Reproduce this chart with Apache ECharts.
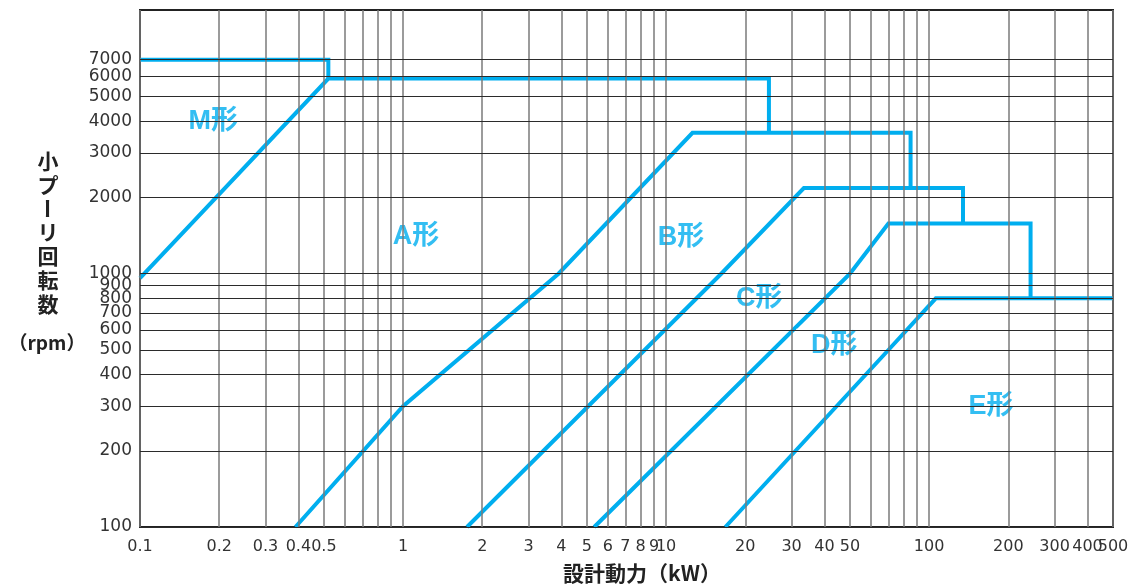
<!DOCTYPE html>
<html>
<head>
<meta charset="utf-8">
<script src="https://cdn.jsdelivr.net/npm/echarts@6/dist/echarts.min.js"></script>
<style>
  html, body { margin: 0; padding: 0; background: #fff; }
  #chart { width: 1139px; height: 587px; }
</style>
</head>
<body>
<div id="chart"></div>
<script>
// V-belt type selection chart: design power (kW) against small-pulley speed (rpm), log–log.

// Grid lines and their tick labels
const kwGrid = [0.1, 0.2, 0.3, 0.4, 0.5, 0.6, 0.7, 0.8, 0.9, 1, 2, 3, 4, 5, 6, 7, 8, 9, 10,
                20, 30, 40, 50, 60, 70, 80, 90, 100, 200, 300, 400, 500];
const kwLabels = ['0.1', '0.2', '0.3', '0.4', '0.5', '1', '2', '3', '4', '5', '6', '7', '8', '9', '10',
                  '20', '30', '40', '50', '100', '200', '300', '400', '500'];
const rpmGrid = [100, 200, 300, 400, 500, 600, 700, 800, 900, 1000, 2000, 3000, 4000, 5000, 6000, 7000];
const rpmLabels = ['100', '200', '300', '400', '500', '600', '700', '800', '900', '1000',
                   '2000', '3000', '4000', '5000', '6000', '7000'];

// Boundary lines between belt-type regions: [kW, rpm]
const limitM = [[0.1, 7000], [0.52, 7000], [0.52, 5900]];
const boundMA = [[0.1, 960], [0.52, 5900], [24.6, 5900], [24.6, 3600]];
const boundAB = [[0.39, 100], [1, 300], [3.9, 1000], [12.6, 3600], [85, 3600], [85, 2180]];
const boundBC = [[1.75, 100], [16.2, 1000], [33.4, 2180], [134.5, 2180], [134.5, 1580]];
const boundCD = [[5.33, 100], [50, 1000], [70, 1580], [243, 1580], [243, 800]];
const boundDE = [[16.8, 100], [70, 500], [106, 800], [500, 800]];

// Region names and where each one sits: kW, rpm
const typeNames = ['M形', 'A形', 'B形', 'C形', 'D形', 'E形'];
const typeKw = [0.19, 1.12, 11.4, 22.6, 43.6, 172];
const typeRpm = [4000, 1400, 1390, 800, 520, 300];

const BLUE = '#00AEEF';
const TICK_FAMILY = '"DejaVu Sans", sans-serif';

const gridLines = [];
kwGrid.forEach(v => {
  const txt = String(v);
  gridLines.push({
    xAxis: v,
    lineStyle: { color: '#7a7a7a', width: 1.5, type: 'solid' },
    label: { show: kwLabels.includes(txt), formatter: txt, position: 'start', distance: 12,
             color: '#333', fontFamily: TICK_FAMILY, fontSize: 16 }
  });
});
rpmGrid.forEach(v => {
  const txt = String(v);
  gridLines.push({
    yAxis: v,
    lineStyle: { color: '#2b2b2b', width: 1, type: 'solid' },
    label: { show: rpmLabels.includes(txt), formatter: txt, position: 'start', distance: 8,
             color: '#333', fontFamily: TICK_FAMILY, fontSize: 17 }
  });
});

function boundary(name, pts) {
  return {
    name: name,
    type: 'line',
    data: pts,
    z: 3,
    showSymbol: false,
    symbol: 'none',
    silent: true,
    lineStyle: { color: BLUE, width: 4, join: 'miter', cap: 'butt' }
  };
}

// Y axis title, written vertically one character at a time
const yTitleChars = ['小', 'プ', 'ー', 'リ', '回', '転', '数'];
const CJK_BOLD = 'bold 21px "Noto Sans CJK JP", sans-serif';
const graphics = yTitleChars.map((ch, i) => ({
  type: 'text',
  x: 48,
  y: 161 + i * 23.8,
  rotation: ch === 'ー' ? -Math.PI / 2 : 0,
  silent: true,
  style: { text: ch, font: CJK_BOLD, fill: '#222', textAlign: 'center', textVerticalAlign: 'middle' }
}));
graphics.push({
  type: 'text', x: 47, y: 343, silent: true,
  style: { text: '（rpm）', font: 'bold 19px "Noto Sans CJK JP", sans-serif', fill: '#222',
           textAlign: 'center', textVerticalAlign: 'middle' }
});
graphics.push({
  type: 'text', x: 642, y: 573, silent: true,
  style: { text: '設計動力（kW）', font: 'bold 21px "Noto Sans CJK JP", sans-serif', fill: '#222',
           textAlign: 'center', textVerticalAlign: 'middle' }
});

const option = {
  animation: false,
  backgroundColor: '#fff',
  grid: {
    left: 140, right: 26, top: 10, bottom: 60,
    show: true, z: 2, borderColor: '#222', borderWidth: 2, backgroundColor: 'transparent'
  },
  xAxis: {
    type: 'log', logBase: 10, min: 0.1, max: 500,
    axisLine: { show: false }, axisTick: { show: false }, axisLabel: { show: false },
    splitLine: { show: false }
  },
  yAxis: {
    type: 'log', logBase: 10, min: 100, max: 11000,
    axisLine: { show: false }, axisTick: { show: false }, axisLabel: { show: false },
    splitLine: { show: false }
  },
  graphic: graphics,
  series: [
    {
      name: 'grid',
      type: 'line',
      data: [],
      z: 1,
      silent: true,
      markLine: {
        silent: true,
        animation: false,
        symbol: ['none', 'none'],
        precision: 3,
        data: gridLines
      }
    },
    boundary('M上限', limitM),
    boundary('M/A', boundMA),
    boundary('A/B', boundAB),
    boundary('B/C', boundBC),
    boundary('C/D', boundCD),
    boundary('D/E', boundDE),
    {
      name: 'types',
      type: 'scatter',
      z: 4,
      silent: true,
      symbolSize: 0,
      data: typeNames.map((n, i) => ({ name: n, value: [typeKw[i], typeRpm[i]] })),
      label: {
        show: true,
        position: 'inside',
        formatter: '{b}',
        color: BLUE,
        fontFamily: '"Liberation Sans", "Noto Sans CJK JP", sans-serif',
        fontWeight: 'bold',
        fontSize: 27,
        lineHeight: 26,
        backgroundColor: '#fff',
        padding: [4, 15]
      }
    }
  ]
};

const chart = echarts.init(document.getElementById('chart'), null, { renderer: 'canvas' });
chart.setOption(option);
</script>
</body>
</html>
